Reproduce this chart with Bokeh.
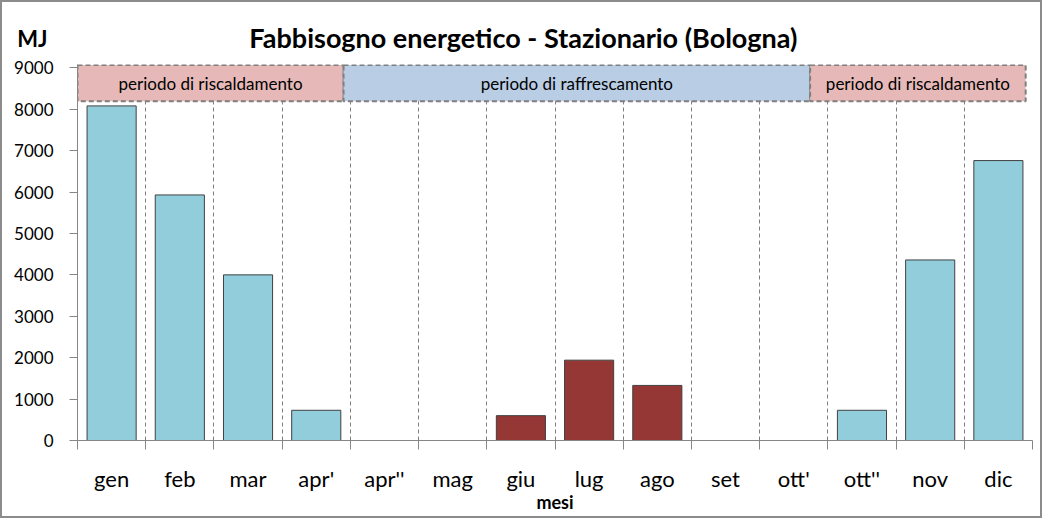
from bokeh.plotting import figure
from bokeh.models import FixedTicker, Range1d, ColumnDataSource
from bokeh.layouts import column
from bokeh.embed import file_html
from bokeh.resources import INLINE
from bokeh.core.properties import value

months = ["gen", "feb", "mar", "apr'", "apr''", "mag", "giu", "lug", "ago",
          "set", "ott'", "ott''", "nov", "dic"]
heating = [8080, 5930, 4000, 730, 0, 0, 0, 0, 0, 0, 0, 730, 4360, 6760]
cooling = [0, 0, 0, 0, 0, 0, 600, 1940, 1330, 0, 0, 0, 0, 0]
y_ticks = [0, 1000, 2000, 3000, 4000, 5000, 6000, 7000, 8000, 9000]

periods = ["periodo di riscaldamento", "periodo di raffrescamento", "periodo di riscaldamento"]
period_start = [0.0, 3.9, 10.74]
period_end = [3.9, 10.74, 13.9]
period_bottom = [8190, 8190, 8190]
period_top = [9065, 9065, 9065]
period_colors = ["#E6B9B8", "#B9CDE5", "#E6B9B8"]

title_text = "Fabbisogno energetico - Stazionario (Bologna)"
unit_text = "MJ"
x_title = "mesi"

FONT = "Lato"
BORDER = "2px solid #8C8C8C"
W, H_HEAD, H_MAIN = 1042, 54, 464
LEFT, RIGHT = 75, 12

centers = [i + 0.5 for i in range(len(months))]
boundaries = list(range(len(months) + 1))

# ---- header (title + unit) ----
head = figure(width=W, height=H_HEAD, output_backend="svg", toolbar_location=None,
              x_range=Range1d(77, 1028), y_range=Range1d(0, 52),
              x_axis_type=None, min_border_left=LEFT, min_border_right=RIGHT,
              min_border_top=0, min_border_bottom=0,
              styles={"border-top": BORDER, "border-left": BORDER, "border-right": BORDER})
head.outline_line_color = None
head.ygrid.visible = False
head.text(x=[521], y=[18], text=[title_text], text_align="center",
          text_baseline="middle", text_font=value(FONT), text_font_size="27px",
          text_font_style="bold", text_color="black")
hy = head.yaxis[0]
hy.ticker = FixedTicker(ticks=[17])
hy.major_label_overrides = {17: unit_text}
hy.axis_line_color = None
hy.major_tick_line_color = None
hy.minor_tick_line_color = None
hy.major_tick_out = 0
hy.major_tick_in = 0
hy.major_label_standoff = 30
hy.major_label_text_font = FONT
hy.major_label_text_font_size = "22px"
hy.major_label_text_font_style = "bold"
hy.major_label_text_color = "black"

# ---- main chart ----
p = figure(width=W, height=H_MAIN, output_backend="svg", toolbar_location=None,
           x_range=Range1d(0, len(months)), y_range=Range1d(0, 9080),
           min_border_left=LEFT, min_border_right=RIGHT, min_border_top=10, min_border_bottom=78,
           styles={"border-bottom": BORDER, "border-left": BORDER, "border-right": BORDER})
p.outline_line_color = None
p.background_fill_color = "white"
p.border_fill_color = "white"

# grid
p.ygrid.visible = False
p.xgrid.ticker = FixedTicker(ticks=boundaries[1:])
p.xgrid.grid_line_color = "#808080"
p.xgrid.grid_line_dash = "4 3"
p.xgrid.grid_line_width = 1

# bars
hx = [c for c, v in zip(centers, heating) if v > 0]
hv = [v for v in heating if v > 0]
cx = [c for c, v in zip(centers, cooling) if v > 0]
cv = [v for v in cooling if v > 0]
p.vbar(x=hx, top=hv, width=0.72, fill_color="#92CDDC", line_color="#404040", line_width=1)
p.vbar(x=cx, top=cv, width=0.72, fill_color="#953735", line_color="#404040", line_width=1)

# period bands
band_src = ColumnDataSource(dict(
    left=period_start, right=period_end, bottom=period_bottom, top=period_top,
    color=period_colors, label=periods,
    xm=[(a + b) / 2 for a, b in zip(period_start, period_end)],
    ym=[(a + b) / 2 for a, b in zip(period_bottom, period_top)],
))
p.quad(left="left", right="right", bottom="bottom", top="top", source=band_src,
       fill_color="color", line_color="#7F7F7F", line_width=2, line_dash="5 3")
p.text(x="xm", y="ym", text="label", source=band_src, text_align="center",
       text_baseline="middle", text_font=value(FONT), text_font_size="17px",
       text_color="black")

# y axis
yax = p.yaxis[0]
yax.ticker = FixedTicker(ticks=y_ticks)
yax.axis_line_color = "#868686"
yax.major_tick_line_color = "#868686"
yax.major_tick_out = 8
yax.major_tick_in = 0
yax.minor_tick_line_color = None
yax.major_label_text_font = FONT
yax.major_label_text_font_size = "17px"
yax.major_label_text_color = "black"
yax.major_label_standoff = 16

# x axis
xax = p.xaxis[0]
xax.ticker = FixedTicker(ticks=centers, minor_ticks=boundaries)
xax.major_label_overrides = {c: m for c, m in zip(centers, months)}
xax.axis_line_color = "#868686"
xax.major_tick_line_color = None
xax.major_tick_out = 0
xax.major_tick_in = 0
xax.minor_tick_line_color = "#868686"
xax.minor_tick_out = 9
xax.minor_tick_in = 0
xax.major_label_text_font = FONT
xax.major_label_text_font_size = "22px"
xax.major_label_text_color = "black"
xax.major_label_standoff = 15
xax.axis_label = x_title
xax.axis_label_text_font = FONT
xax.axis_label_text_font_size = "18px"
xax.axis_label_text_font_style = "bold"
xax.axis_label_text_color = "black"
xax.axis_label_standoff = -4

layout = column(head, p, spacing=0)

open("out.html", "w").write(file_html(layout, INLINE))
